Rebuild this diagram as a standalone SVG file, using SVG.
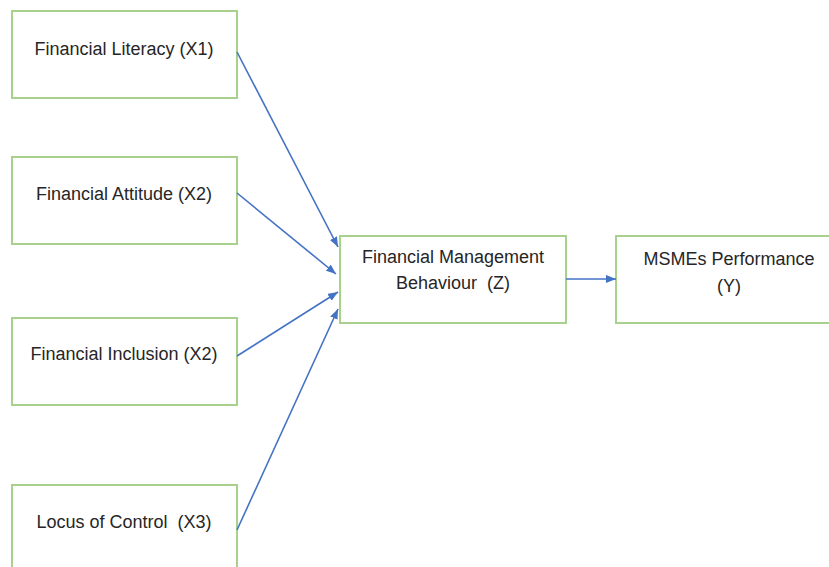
<svg xmlns="http://www.w3.org/2000/svg" width="829" height="567" viewBox="0 0 829 567">
<defs>
<marker id="ah" markerWidth="10" markerHeight="8" refX="10" refY="4" orient="auto" markerUnits="userSpaceOnUse">
<path d="M0,0 L10,4 L0,8 Z" fill="#4472C4"/>
</marker>
</defs>
<style>
.box{fill:#fff;stroke:#A9D18E;stroke-width:2}
.t{font-family:"Liberation Sans",Arial,sans-serif;font-size:18px;fill:#262626;text-anchor:middle}
.c{stroke:#4472C4;stroke-width:1.6;fill:none;marker-end:url(#ah)}
</style>
<rect width="829" height="567" fill="#fff"/>
<g id="x1"><rect class="box" x="12" y="11" width="225" height="87"/><text class="t" x="124" y="55">Financial Literacy (X1)</text></g>
<g id="x2"><rect class="box" x="12" y="157" width="225" height="87"/><text class="t" x="124" y="200">Financial Attitude (X2)</text></g>
<g id="x2b"><rect class="box" x="12" y="318" width="225" height="87"/><text class="t" x="124" y="360">Financial Inclusion (X2)</text></g>
<g id="x3"><rect class="box" x="12" y="485" width="225" height="100"/><text class="t" x="124" y="528" xml:space="preserve">Locus of Control  (X3)</text></g>
<g id="z"><rect class="box" x="340" y="236" width="226" height="87"/><text class="t" x="453" y="263">Financial Management</text><text class="t" x="453" y="289" xml:space="preserve">Behaviour  (Z)</text></g>
<g id="y"><rect class="box" x="616" y="236" width="220" height="87"/><text class="t" x="729" y="265">MSMEs Performance</text><text class="t" x="729" y="292">(Y)</text></g>
<g id="connectors">
<line class="c" x1="237" y1="52" x2="338" y2="247"/>
<line class="c" x1="237" y1="193" x2="336" y2="274"/>
<line class="c" x1="237" y1="356" x2="338" y2="292"/>
<line class="c" x1="237" y1="530" x2="338" y2="309"/>
<line class="c" x1="566" y1="279" x2="616" y2="279"/>
</g>
</svg>
